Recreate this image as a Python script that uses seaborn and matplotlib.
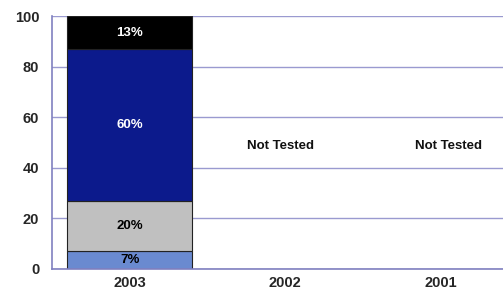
import numpy as np
import pandas as pd
import seaborn as sns
import matplotlib.pyplot as plt

years = ["2003", "2002", "2001"]
levels = ["Level 1", "Level 2", "Level 3", "Level 4"]
values_2003 = [7, 20, 60, 13]
seg_colors = ["#6a8ad0", "#c0c0c0", "#0c1a8c", "#000000"]
label_colors = ["#000000", "#000000", "#ffffff", "#ffffff"]
not_tested = ["2002", "2001"]
yticks = [0, 20, 40, 60, 80, 100]

sns.set_theme(style="white")
plt.rcParams['font.family'] = ['Liberation Sans', 'DejaVu Sans']

fig, ax = plt.subplots(figsize=(5.03, 2.93), dpi=100)
fig.subplots_adjust(left=0.103, right=1.0, bottom=0.082, top=0.945)

grid_col = "#9a9ad0"
ax.set_axisbelow(True)
ax.yaxis.grid(True, color=grid_col, linewidth=1.0)

bottom = 0
for lev, val, col, tcol in zip(levels, values_2003, seg_colors, label_colors):
    df = pd.DataFrame({"year": [years[0]], "pct": [val]})
    ax.bar(df["year"], df["pct"], bottom=bottom, width=0.8, color=col,
           edgecolor="#222222", linewidth=0.8)
    ax.text(0, bottom + val / 2, f"{val}%", ha="center", va="center",
            fontsize=9.5, fontweight="bold", color=tcol)
    bottom += val

for yr in not_tested:
    i = years.index(yr)
    off = -0.03 if i == 1 else 0.05
    ax.text(i + off, 48.5, "Not Tested", ha="center", va="center",
            fontsize=9.5, fontweight="bold", color="#111111")

ax.set_xticks(range(len(years)))
ax.set_xticklabels(years, fontsize=10.5, fontweight="bold")
ax.set_xticks([0.5, 1.5], minor=True)
ax.tick_params(axis="x", which="major", length=0, pad=5)
ax.tick_params(axis="x", which="minor", direction="in", length=5, color=grid_col)
ax.set_yticks(yticks)
ax.set_yticklabels([str(t) for t in yticks], fontsize=10.5, fontweight="bold")
ax.tick_params(axis="y", length=0, pad=9)
ax.set_xlim(-0.5, 2.4)
ax.set_ylim(0, 100)

for s in ["top", "right"]:
    ax.spines[s].set_visible(False)
for s in ["left", "bottom"]:
    ax.spines[s].set_color("#8080c0")
    ax.spines[s].set_linewidth(1.2)

fig.savefig("out.png", dpi=100)
